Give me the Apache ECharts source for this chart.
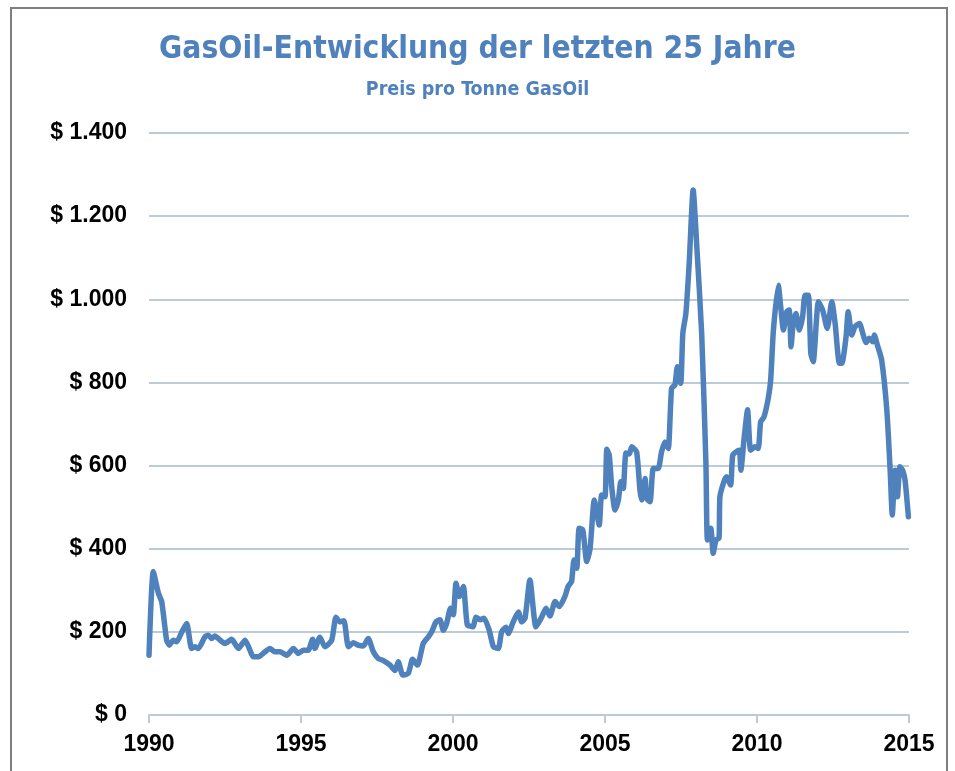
<!DOCTYPE html>
<html>
<head>
<meta charset="utf-8">
<script src="https://cdn.jsdelivr.net/npm/echarts@6/dist/echarts.min.js"></script>
<style>
  html, body { margin: 0; padding: 0; background: #fff; }
  #main { width: 955px; height: 771px; }
</style>
</head>
<body>
<div id="main"></div>
<script>
// Zeitpunkte (Dezimaljahr) und Preis pro Tonne in US-Dollar
var jahre = [
  1990.00, 1990.14, 1990.31, 1990.42, 1990.58, 1990.67, 1990.80, 1990.91,
  1991.08, 1991.24, 1991.40, 1991.51, 1991.62, 1991.84, 1991.95,
  1992.06, 1992.17, 1992.34, 1992.50, 1992.72, 1992.94,
  1993.16, 1993.32, 1993.43, 1993.60, 1993.82, 1993.98,
  1994.14, 1994.31, 1994.53, 1994.75, 1994.91,
  1995.08, 1995.24, 1995.38, 1995.46, 1995.62, 1995.79,
  1996.01, 1996.15, 1996.28, 1996.41, 1996.56, 1996.72, 1996.88,
  1997.05, 1997.21, 1997.38, 1997.54, 1997.71, 1997.93,
  1998.09, 1998.20, 1998.35, 1998.53, 1998.67, 1998.83,
  1999.02, 1999.19, 1999.30, 1999.44, 1999.57, 1999.68, 1999.79, 1999.92,
  2000.01, 2000.10, 2000.21, 2000.34, 2000.47, 2000.65, 2000.76, 2000.89,
  2001.02, 2001.19, 2001.33, 2001.49, 2001.60, 2001.74, 2001.82, 2001.98,
  2002.15, 2002.26, 2002.37, 2002.53, 2002.73, 2002.92,
  2003.06, 2003.19, 2003.36, 2003.50, 2003.68, 2003.79, 2003.90, 2003.98,
  2004.07, 2004.15, 2004.27, 2004.40, 2004.51, 2004.65, 2004.81, 2004.89,
  2005.00, 2005.06, 2005.14, 2005.22, 2005.33, 2005.44, 2005.52, 2005.60, 2005.69, 2005.80, 2005.88,
  2006.04, 2006.15, 2006.21, 2006.32, 2006.37, 2006.48, 2006.59, 2006.75, 2006.86, 2006.97,
  2007.08, 2007.19, 2007.30, 2007.38, 2007.49, 2007.56, 2007.66, 2007.77, 2007.90,
  2008.02, 2008.18, 2008.32, 2008.37, 2008.48, 2008.56, 2008.65, 2008.75, 2008.78, 2008.91,
  2009.00, 2009.13, 2009.20, 2009.31, 2009.42, 2009.47, 2009.57, 2009.69, 2009.79, 2009.93,
  2010.04, 2010.12, 2010.23, 2010.37, 2010.45, 2010.54, 2010.70, 2010.78, 2010.87, 2010.98,
  2011.06, 2011.12, 2011.19, 2011.28, 2011.39, 2011.50, 2011.58, 2011.69, 2011.77, 2011.85,
  2012.02, 2012.16, 2012.31, 2012.46, 2012.57, 2012.71, 2012.79, 2012.93,
  2013.00, 2013.12, 2013.22, 2013.37, 2013.48, 2013.59, 2013.69, 2013.81, 2013.86, 2013.96,
  2014.10, 2014.27, 2014.38, 2014.45, 2014.54, 2014.62, 2014.70, 2014.79, 2014.87, 2014.98
];
var preise = [
  144, 345, 293, 272, 180, 168, 180, 176,
  200, 220, 160, 164, 160, 188, 192,
  184, 190, 180, 172, 182, 160,
  180, 156, 140, 140, 152, 160,
  152, 152, 144, 160, 148,
  156, 156, 182, 160, 187, 164,
  180, 235, 224, 227, 164, 174, 168,
  166, 184, 152, 136, 131, 120,
  107, 128, 96, 100, 134, 120,
  172, 188, 200, 224, 229, 204, 220, 257,
  241, 317, 285, 309, 217, 212, 235, 229,
  233, 204, 164, 160, 200, 211, 196, 224,
  248, 224, 233, 325, 212, 236,
  257, 238, 273, 261, 285, 310, 321, 373,
  353, 449, 445, 369, 401, 517, 457, 529,
  525, 639, 625, 549, 493, 517, 561, 545, 630, 628, 645,
  633, 541, 517, 569, 521, 513, 593, 593, 633, 657,
  641, 786, 794, 838, 798, 918, 966, 1087, 1263,
  1127, 918, 605, 421, 449, 389, 421, 425, 525, 561,
  573, 553, 625, 633, 637, 589, 661, 734, 637, 645,
  641, 705, 717, 762, 806, 926, 1034, 982, 926, 970,
  974, 886, 942, 966, 926, 958, 1010, 1010, 870, 850,
  994, 974, 930, 994, 942, 846, 846, 910,
  970, 914, 934, 942, 918, 896, 906, 898, 914, 890,
  854, 734, 589, 481, 589, 525, 597, 589, 565, 477
];
var titel = 'GasOil-Entwicklung der letzten 25 Jahre';
var untertitel = 'Preis pro Tonne GasOil';

var punkte = jahre.map(function (j, i) { return [j, preise[i]]; });

var titelSchrift = "'DejaVu Sans Condensed', 'DejaVu Sans', sans-serif";
var achsenSchrift = "'Liberation Sans', Arial, sans-serif";
var blau = '#4f81bd';
var gitter = '#bccbd6';

var myChart = echarts.init(document.getElementById('main'));
var option = {
  backgroundColor: '#fff',
  animation: false,
  graphic: [
    {
      type: 'rect',
      shape: { x: 11, y: 8, width: 936, height: 800 },
      style: { fill: 'none', stroke: '#7f7f7f', lineWidth: 2 },
      silent: true
    }
  ],
  title: {
    text: titel,
    subtext: untertitel,
    left: 'center',
    top: 29,
    itemGap: 14,
    textStyle: { fontFamily: titelSchrift, fontSize: 31.5, fontWeight: 'bold', color: blau },
    subtextStyle: { fontFamily: titelSchrift, fontSize: 19.5, fontWeight: 'bold', color: blau }
  },
  grid: { left: 149, right: 46, top: 133, bottom: 56 },
  xAxis: {
    type: 'value',
    min: 1990,
    max: 2015,
    interval: 5,
    axisLine: { show: true, lineStyle: { color: gitter, width: 2 } },
    axisTick: { show: true, length: 8, lineStyle: { color: gitter, width: 2 } },
    splitLine: { show: false },
    axisLabel: {
      margin: 18,
      color: '#000',
      fontFamily: achsenSchrift,
      fontSize: 23,
      fontWeight: 'bold',
      formatter: function (v) { return String(v); }
    }
  },
  yAxis: {
    type: 'value',
    min: 0,
    max: 1400,
    interval: 200,
    axisLine: { show: false },
    axisTick: { show: false },
    splitLine: { show: true, lineStyle: { color: gitter, width: 2 } },
    axisLabel: {
      margin: 22,
      color: '#000',
      fontFamily: achsenSchrift,
      fontSize: 23,
      fontWeight: 'bold',
      formatter: function (v) {
        return '$ ' + String(v).replace(/\B(?=(\d{3})+(?!\d))/g, '.');
      }
    }
  },
  series: [
    {
      type: 'line',
      data: punkte,
      showSymbol: false,
      smooth: 0.2,
      lineStyle: { color: blau, width: 5.5, join: 'round', cap: 'round' },
      z: 3
    }
  ]
};
myChart.setOption(option);
</script>
</body>
</html>
